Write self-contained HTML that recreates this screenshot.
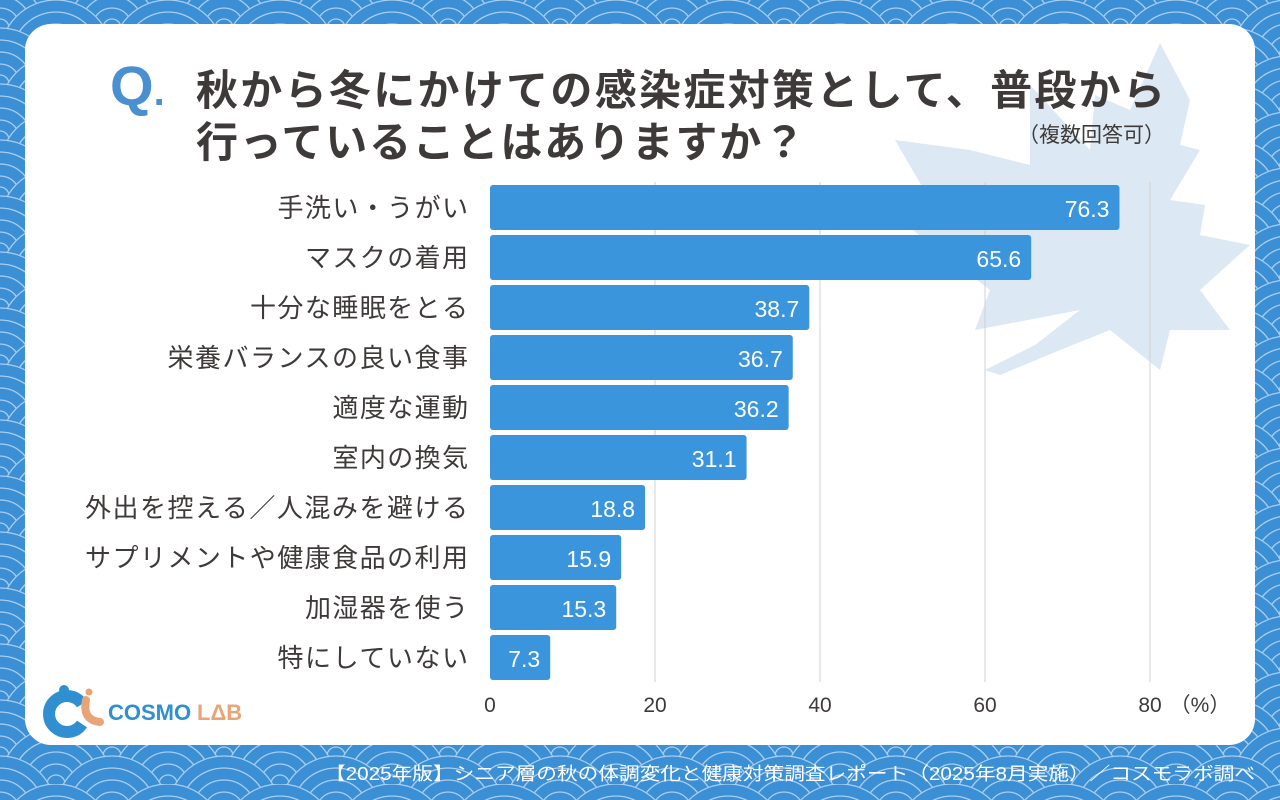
<!DOCTYPE html>
<html><head><meta charset="utf-8">
<style>
html,body{margin:0;padding:0;width:1280px;height:800px;overflow:hidden;background:#3b8fd4;font-family:"Liberation Sans","Noto Sans CJK JP",sans-serif;}
svg{display:block}
</style></head>
<body>
<svg width="1280" height="800" viewBox="0 0 1280 800">
<defs>
<pattern id="wave" width="112" height="56" patternUnits="userSpaceOnUse">
<g fill="#3b8fd4" stroke="#a9cdee" stroke-width="1.3">
<g id="sc"><circle cx="56" cy="56" r="56"/><circle cx="56" cy="56" r="44"/><circle cx="56" cy="56" r="32"/><circle cx="56" cy="56" r="20"/><circle cx="56" cy="56" r="9"/></g>
<use href="#sc" x="-56" y="-28"/><use href="#sc" x="56" y="-28"/>
<use href="#sc" x="0" y="0"/>
<use href="#sc" x="-56" y="28"/><use href="#sc" x="56" y="28"/>
</g>
</pattern>
</defs>
<rect width="1280" height="800" fill="url(#wave)"/>
<rect x="25" y="24" width="1230" height="721" rx="26" fill="#fff"/>
<path fill="#dce8f3" d="M1160,43 L1130,110 L1095,95 L1090,150 L1030,85 L1030,165 L970,150 L895,140 L930,200 L900,220 L990,290 L975,330 L1080,310 L1035,345 L985,370 L1000,375 L1060,350 L1110,330 L1160,370 L1170,330 L1230,330 L1200,290 L1250,245 L1200,235 L1205,205 L1170,200 L1200,150 L1180,145 L1190,100 Z"/>
<text x="110" y="105" font-size="56" font-weight="bold" fill="#4a90d0" font-family="Liberation Sans, sans-serif">Q<tspan font-size="40">.</tspan></text>
<text x="196" y="105" font-size="42" font-weight="bold" fill="#3e3a39" textLength="969" lengthAdjust="spacing">秋から冬にかけての感染症対策として、普段から</text>
<text x="196" y="157" font-size="42" font-weight="bold" fill="#3e3a39" textLength="609" lengthAdjust="spacing">行っていることはありますか？</text>
<text x="1165" y="142" font-size="21" fill="#3e3a39" text-anchor="end">（複数回答可）</text>
<g id="plot"></g>
<g>
<circle cx="64" cy="690" r="5" fill="#2f8fd0"/><circle cx="89" cy="692" r="3.5" fill="#e8a477"/>
<path d="M82,704 a18,18 0 1 0 0,20" fill="none" stroke="#2f8fd0" stroke-width="12"/>
<path d="M86,700 q-4,20 14,22" fill="none" stroke="#e8a477" stroke-width="8" stroke-linecap="round"/>
<text x="108" y="720" font-size="22" font-weight="bold" fill="#2f8fd0" font-family="Liberation Sans, sans-serif">COSMO</text>
<text x="197" y="720" font-size="22" font-weight="bold" fill="#e8a477" font-family="Liberation Sans, sans-serif">LΔB</text>
</g>
<text x="325" y="780" font-size="18" fill="#fff" textLength="930" lengthAdjust="spacingAndGlyphs">【2025年版】シニア層の秋の体調変化と健康対策調査レポート（2025年8月実施）／コスモラボ調べ</text>
</svg>
<script>
const categories=["手洗い・うがい","マスクの着用","十分な睡眠をとる","栄養バランスの良い食事","適度な運動","室内の換気","外出を控える／人混みを避ける","サプリメントや健康食品の利用","加湿器を使う","特にしていない"];
const values=[76.3,65.6,38.7,36.7,36.2,31.1,18.8,15.9,15.3,7.3];
const ticks=[0,20,40,60,80];
const NS="http://www.w3.org/2000/svg";
const g=document.getElementById('plot');
const x=v=>490+v*660/80;
const y=i=>185+i*50;
function mk(t,a){const e=document.createElementNS(NS,t);for(const k in a)e.setAttribute(k,a[k]);g.appendChild(e);return e;}
ticks.forEach(t=>{
 if(t>0){const l=mk('line',{x1:x(t),x2:x(t),y1:182,y2:682,stroke:'#d0d0d0','stroke-width':1});
 
 }
 const tx=mk('text',{x:x(t),y:712,'font-size':21,fill:'#3e3a39','text-anchor':'middle'});tx.textContent=t;
 
 
});
const pc=mk('text',{x:1200,y:712,'font-size':21,fill:'#3e3a39','text-anchor':'middle'});pc.textContent='（%）';


categories.forEach((c,i)=>{
 const r=mk('rect',{x:x(0),y:y(i),width:x(values[i])-x(0),height:45,rx:3,fill:'#3a95dc'});
 
 
 const v=mk('text',{x:x(values[i])-10,y:y(i)+32,'font-size':23,fill:'#fff','text-anchor':'end'});v.textContent=values[i].toFixed(1);
 
 
 const l=mk('text',{x:470-c.length*27.5,y:y(i)+32,'font-size':26,fill:'#3e3a39',textLength:c.length*27.5-2,lengthAdjust:'spacing'});l.textContent=c;
 
 
});
</script>
</body></html>
